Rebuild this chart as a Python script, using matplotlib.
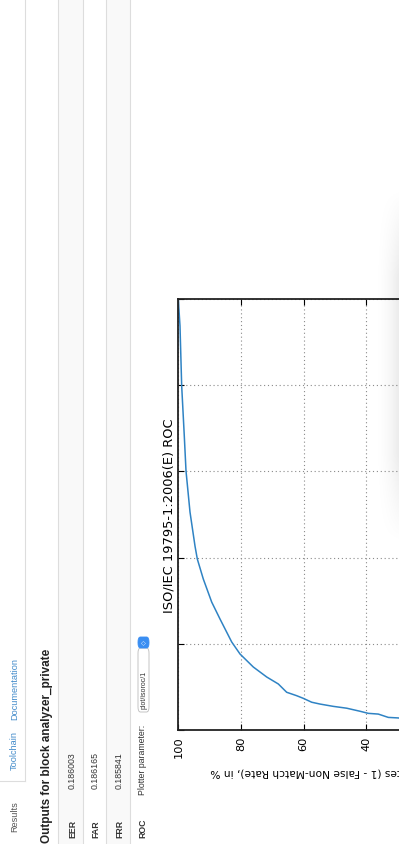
import matplotlib
matplotlib.use("Agg")
import matplotlib.pyplot as plt
from matplotlib.patches import Rectangle, FancyBboxPatch
from matplotlib.lines import Line2D
from matplotlib.ticker import NullLocator
import numpy as np

W, H = 409, 845

# ROC values (FMR in %, TMR in %)
fmr = [100, 48.6, 9.8, 2.58, 1.01, 0.338, 0.136, 0.0964, 0.0565, 0.0305, 0.0194, 0.0105,
       0.00762, 0.00538, 0.00412, 0.00342, 0.00274, 0.00250, 0.00233, 0.00210, 0.00200,
       0.00188, 0.00179, 0.00165, 0.00156, 0.00153, 0.00140, 0.00138, 0.00124]
tmr = [100.0, 99.46, 98.92, 98.09, 97.54, 96.27, 94.67, 93.94, 92.03, 89.35, 86.70, 82.97,
       80.32, 76.08, 71.80, 68.10, 65.43, 62.24, 60.13, 57.45, 54.80, 50.56, 46.28, 42.04,
       39.39, 36.20, 33.01, 29.82, 23.0]
tmr_ticks = [100, 80, 60, 40]
fmr_ticks = [1e-3, 1e-2, 1e-1, 1, 10, 100]

tabs = ["Results", "Toolchain", "Documentation"]
metric_names = ["EER", "FAR", "FRR"]
metric_values = ["0.186003", "0.186165", "0.185841"]


# the page is rotated 90 degrees, so everything is placed in screenshot pixels
def fx(x):
    return x / W


def fy(y):
    return 1 - y / H


def rect(x0, y0, x1, y1, **kw):
    r = Rectangle((fx(x0), fy(y1)), (x1 - x0) / W, (y1 - y0) / H,
                  transform=fig.transFigure, **kw)
    fig.add_artist(r)
    return r


def hline(x0, x1, y, **kw):
    fig.add_artist(Line2D([fx(x0), fx(x1)], [fy(y), fy(y)], transform=fig.transFigure, **kw))


def vline(x, y0, y1, **kw):
    fig.add_artist(Line2D([fx(x), fx(x)], [fy(y0), fy(y1)], transform=fig.transFigure, **kw))


def vtext(x, y, s, **kw):
    # text reading bottom to top, x = baseline, y = start
    fig.text(fx(x), fy(y), s, rotation=90, rotation_mode='anchor',
             ha=kw.pop('ha', 'left'), va=kw.pop('va', 'baseline'), **kw)


fig = plt.figure(figsize=(W / 100, H / 100), dpi=100)
fig.patch.set_facecolor('white')

web = ['Liberation Sans', 'DejaVu Sans']
border = '#dddddd'

# tabs
vline(25, 0, 782, color=border, lw=0.8)
hline(0, 25, 782, color=border, lw=0.8)
vtext(17, 832, tabs[0], family=web, fontsize=6.6, color='#555555')
vtext(17, 770, tabs[1], family=web, fontsize=6.6, color='#428bca')
vtext(17, 720, tabs[2], family=web, fontsize=6.6, color='#428bca')

# heading
vtext(50, 843, 'Outputs for block analyzer_private', family=web, fontsize=8.5,
      weight='bold', color='#222222')

# striped table
rows = [(58, 83), (83, 106), (106, 130)]
for i, (a, b) in enumerate(rows):
    if i % 2 == 0:
        rect(a, 0, b, H, color='#f9f9f9', lw=0)
    vline(a, 0, H, color=border, lw=0.8)
    base = b - 8
    vtext(base, 838, metric_names[i], family=web, fontsize=6.3, weight='bold', color='#333333')
    vtext(base, 789, metric_values[i], family=web, fontsize=6.3, color='#333333')
vline(130, 0, H, color=border, lw=0.8)

vtext(145, 838, 'ROC', family=web, fontsize=6.3, weight='bold', color='#333333')
vtext(145, 795, 'Plotter parameter:', family=web, fontsize=6.3, color='#333333')
fig.add_artist(FancyBboxPatch((fx(138), fy(713)), 11 / W, 64 / H,
                              boxstyle='round,pad=0,rounding_size=0.006',
                              transform=fig.transFigure, fc='white', ec='#bbbbbb', lw=0.6))
vtext(146, 709, 'plot/isoroc/1', family=web, fontsize=5, color='#333333')
fig.add_artist(FancyBboxPatch((fx(138), fy(649)), 11 / W, 11 / H,
                              boxstyle='round,pad=0,rounding_size=0.006',
                              transform=fig.transFigure, fc='#3a8ef2', ec='#3a8ef2', lw=0.6))
fig.text(fx(143.5), fy(643.5), '\u25c7', ha='center', va='center', fontsize=4.5, color='white')

# the ROC plot
ax = fig.add_axes([fx(178.3), fy(731), (491.8 - 178.3) / W, (731 - 300) / H])
ax.plot(tmr, fmr, color='#2f83c4', lw=1.1)
ax.set_yscale('log')
ax.set_xlim(100, 0)
ax.set_ylim(1e-3, 1e2)
ax.set_xticks(tmr_ticks)
ax.set_xticklabels([str(t) for t in tmr_ticks], rotation=90, fontsize=8.2)
ax.set_yticks(fmr_ticks)
ax.yaxis.set_minor_locator(NullLocator())
ax.tick_params(direction='in', top=True, right=True, length=4, width=0.8, pad=4)
ax.tick_params(axis='y', labelleft=False, labelright=False)
ax.grid(True, ls=(0, (1, 2.5)), color='#8a8a8a', lw=0.8)
for s in ax.spines.values():
    s.set_linewidth(1.3)
    s.set_color('#222222')

fig.text(fx(178.3 - 5.3), fy(516), 'ISO/IEC 19795-1:2006(E) ROC', rotation=90,
         rotation_mode='anchor', ha='center', va='baseline', fontsize=9.4)
fig.text(fx(210), fy(769.5), 'True Match Rates (1 - False Non-Match Rate), in %',
         rotation=180, rotation_mode='anchor', ha='right', va='baseline', fontsize=7.7)

# soft shadow at the right edge
sh = fig.add_axes([fx(372), fy(545), 27 / W, (545 - 188) / H])
gx = np.linspace(0, 1, 60) ** 2
gy = np.linspace(0, 1, 200)
win = np.clip(np.minimum(gy, 1 - gy) / 0.25, 0, 1)
alpha = 0.08 * win[:, None] * gx[None, :]
img = np.zeros((200, 60, 4))
img[..., 3] = alpha
sh.imshow(img, aspect='auto', extent=(0, 1, 0, 1))
sh.axis('off')

# white strip at the far right
rect(399, 0, W, H, color='white', lw=0, zorder=20)

plt.savefig('out.png', dpi=100)
